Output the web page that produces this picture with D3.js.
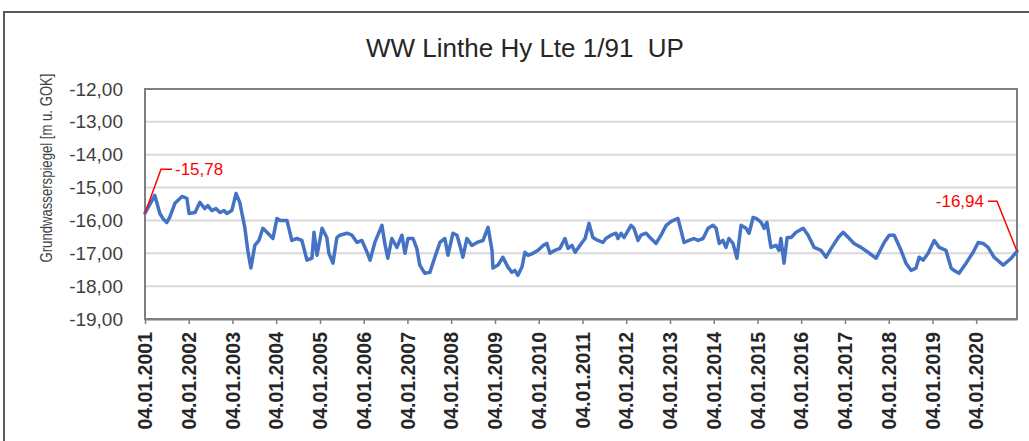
<!DOCTYPE html>
<html>
<head>
<meta charset="utf-8">
<script src="https://cdn.jsdelivr.net/npm/d3@7"></script>
<style>
  body { margin: 0; background: #fff; }
  text { font-family: "Liberation Sans", Arial, sans-serif; white-space: pre; }
</style>
</head>
<body>
<div id="container"></div>
<script>
/* CONSTANTS AND GLOBALS */
const width = 1029,
  height = 441,
  margin = { top: 89, bottom: 122, left: 145, right: 12 };

/* DATA */
const title = "WW Linthe Hy Lte 1/91  UP";
const yTitle = "Grundwasserspiegel [m u. GOK]";

const dates = [
  "2001-01-04","2001-03-27","2001-05-08","2001-06-02","2001-07-05","2001-07-29","2001-09-11","2001-11-09","2001-12-20",
  "2002-01-07","2002-02-26","2002-04-07","2002-05-18","2002-06-13","2002-07-16","2002-08-19","2002-09-22","2002-10-25","2002-11-19","2002-12-30",
  "2003-02-03","2003-03-06","2003-04-17","2003-05-12","2003-06-07","2003-07-10","2003-08-13","2003-09-15","2003-10-27","2003-12-08",
  "2004-01-11","2004-02-06","2004-04-03","2004-05-14","2004-06-25","2004-08-06","2004-09-17","2004-10-29","2004-11-15","2004-12-10",
  "2005-01-21","2005-03-02","2005-03-19","2005-04-22","2005-05-25","2005-06-19","2005-08-17","2005-09-28","2005-11-09","2005-12-20",
  "2006-02-01","2006-02-26","2006-04-07","2006-06-05","2006-06-29","2006-07-24","2006-08-27","2006-10-08","2006-11-19","2006-12-14",
  "2007-01-09","2007-02-20","2007-03-23","2007-04-17","2007-05-29","2007-07-10","2007-08-21","2007-10-02","2007-11-13","2007-12-08",
  "2008-01-19","2008-02-22","2008-03-17","2008-04-11","2008-05-14","2008-06-25","2008-08-07","2008-09-26","2008-11-07","2008-12-10","2008-12-18",
  "2009-01-29","2009-03-11","2009-04-22","2009-05-25","2009-06-19","2009-07-14","2009-08-17","2009-09-11","2009-10-06","2009-11-18","2009-12-29",
  "2010-02-10","2010-03-13","2010-04-08","2010-05-19","2010-06-30","2010-08-11","2010-09-06","2010-10-09","2010-11-04",
  "2011-01-01","2011-01-26","2011-02-28","2011-04-01","2011-05-13","2011-06-24","2011-07-19","2011-08-30","2011-10-11","2011-10-28","2011-11-22","2011-12-17",
  "2012-02-14","2012-03-09","2012-04-12","2012-05-07","2012-06-18","2012-07-29","2012-09-10","2012-10-21","2012-12-03",
  "2013-01-14","2013-03-11","2013-04-06","2013-05-01","2013-06-12","2013-07-23","2013-08-26","2013-10-07","2013-11-18","2013-12-29",
  "2014-01-24","2014-02-19","2014-03-22","2014-04-16","2014-05-11","2014-06-14","2014-07-17","2014-08-20","2014-10-01","2014-10-26","2014-11-29","2014-12-24",
  "2015-02-04","2015-03-01","2015-03-24","2015-04-27","2015-06-08","2015-07-03","2015-07-19","2015-08-14","2015-09-09","2015-10-12","2015-11-23",
  "2016-01-21","2016-03-02","2016-04-21","2016-06-18","2016-07-30","2016-09-11","2016-11-09","2016-12-20",
  "2017-02-01","2017-03-20","2017-05-18","2017-07-15","2017-09-21","2017-11-27",
  "2018-01-08","2018-02-19","2018-04-17","2018-05-28","2018-07-09","2018-08-20","2018-09-15","2018-10-18","2018-11-29",
  "2019-01-19","2019-03-01","2019-04-27","2019-06-09","2019-07-03","2019-08-14","2019-10-12","2019-12-10",
  "2020-01-21","2020-03-02","2020-04-13","2020-06-02","2020-08-17","2020-10-23","2020-12-10"
];

const levels = [
  -15.78,-15.24,-15.79,-15.94,-16.06,-15.91,-15.48,-15.27,-15.33,
  -15.79,-15.76,-15.45,-15.64,-15.55,-15.70,-15.64,-15.76,-15.70,-15.79,-15.70,
  -15.18,-15.45,-16.21,-16.91,-17.45,-16.76,-16.61,-16.24,-16.39,-16.55,
  -15.94,-16.00,-16.00,-16.61,-16.55,-16.61,-17.21,-17.15,-16.36,-17.06,
  -16.24,-16.52,-17.00,-17.30,-16.52,-16.45,-16.39,-16.45,-16.67,-16.61,
  -16.97,-17.21,-16.67,-16.15,-16.70,-17.15,-16.55,-16.82,-16.45,-17.00,
  -16.55,-16.55,-16.85,-17.36,-17.61,-17.58,-17.12,-16.67,-16.55,-17.06,
  -16.39,-16.45,-16.76,-17.12,-16.55,-16.76,-16.67,-16.61,-16.21,-16.91,-17.45,
  -17.36,-17.12,-17.42,-17.58,-17.52,-17.67,-17.42,-16.97,-17.06,-17.00,-16.91,
  -16.76,-16.70,-17.00,-16.91,-16.85,-16.55,-16.85,-16.76,-16.97,
  -16.67,-16.55,-16.09,-16.52,-16.61,-16.67,-16.55,-16.45,-16.39,-16.55,-16.39,-16.52,
  -16.15,-16.24,-16.61,-16.45,-16.39,-16.55,-16.70,-16.45,-16.15,
  -16.03,-15.94,-16.30,-16.67,-16.61,-16.55,-16.61,-16.55,-16.24,-16.15,
  -16.24,-16.70,-16.61,-16.82,-16.55,-16.70,-17.15,-16.15,-16.24,-16.39,-15.91,-15.94,
  -16.06,-16.24,-16.06,-16.82,-16.76,-16.91,-16.55,-17.30,-16.52,-16.52,-16.36,
  -16.24,-16.45,-16.82,-16.91,-17.12,-16.85,-16.52,-16.36,
  -16.52,-16.70,-16.82,-16.97,-17.15,-16.67,
  -16.45,-16.45,-16.91,-17.30,-17.52,-17.45,-17.12,-17.21,-17.00,
  -16.61,-16.82,-16.91,-17.45,-17.52,-17.61,-17.30,-16.97,
  -16.67,-16.70,-16.82,-17.12,-17.36,-17.15,-16.94
];

const tickDates = [
  "2001-01-04","2002-01-04","2003-01-04","2004-01-04","2005-01-04",
  "2006-01-04","2007-01-04","2008-01-04","2009-01-04","2010-01-04",
  "2011-01-04","2012-01-04","2013-01-04","2014-01-04","2015-01-04",
  "2016-01-04","2017-01-04","2018-01-04","2019-01-04","2020-01-04"
];
const yTicks = [-12, -13, -14, -15, -16, -17, -18, -19];

const parse = d3.timeParse("%Y-%m-%d");
const data = dates.map((d, i) => ({ date: parse(d), value: levels[i] }));
const de = d3.formatLocale({ decimal: ",", thousands: ".", grouping: [3], currency: ["", " €"], minus: "-" });
const fmt = de.format(".2f");
const dateFmt = d3.timeFormat("%d.%m.%Y");

/* SCALES */
const xScale = d3.scaleTime()
  .domain(d3.extent(data, d => d.date))
  .range([margin.left, width - margin.right]);

const yScale = d3.scaleLinear()
  .domain([-19, -12])
  .range([height - margin.bottom, margin.top]);

/* SVG */
const svg = d3.select("#container")
  .append("svg")
  .attr("width", width)
  .attr("height", height)
  .style("background-color", "#fff");

// outer chart frame
svg.append("rect")
  .attr("x", 4).attr("y", 12)
  .attr("width", 1100).attr("height", 500)
  .attr("fill", "none")
  .attr("stroke", "#595959")
  .attr("stroke-width", 2);

// title
svg.append("text")
  .attr("x", 525).attr("y", 57)
  .attr("text-anchor", "middle")
  .attr("font-size", 26)
  .attr("fill", "#262626")
  .text(title);

// gridlines
svg.append("g")
  .selectAll("line")
  .data(yTicks)
  .join("line")
  .attr("x1", margin.left).attr("x2", width - margin.right)
  .attr("y1", d => yScale(d)).attr("y2", d => yScale(d))
  .attr("stroke", "#d9d9d9")
  .attr("stroke-width", 2);

// y axis labels
const yAxis = d3.axisLeft(yScale)
  .tickValues(yTicks)
  .tickFormat(fmt)
  .tickSize(0)
  .tickPadding(22);

svg.append("g")
  .attr("transform", `translate(${margin.left},0)`)
  .call(yAxis)
  .call(g => g.select(".domain").remove())
  .selectAll("text")
  .attr("font-family", "Liberation Sans, Arial, sans-serif")
  .attr("font-size", 19)
  .attr("fill", "#404040");

// y axis title (Calibri-like narrow run)
svg.append("text")
  .attr("transform", `translate(52,168) rotate(-90)`)
  .attr("text-anchor", "middle")
  .attr("font-size", 16)
  .attr("textLength", 189)
  .attr("lengthAdjust", "spacingAndGlyphs")
  .attr("fill", "#404040")
  .text(yTitle);

// x axis
const xAxis = d3.axisBottom(xScale)
  .tickValues(tickDates.map(parse))
  .tickFormat(dateFmt)
  .tickSize(5)
  .tickSizeOuter(0);

svg.append("g")
  .attr("transform", `translate(0,${height - margin.bottom})`)
  .call(xAxis)
  .call(g => g.select(".domain").attr("stroke", "#7f7f7f").attr("stroke-width", 2))
  .call(g => g.selectAll(".tick line").attr("stroke", "#7f7f7f").attr("stroke-width", 1.5))
  .selectAll("text")
  .attr("font-family", "Liberation Sans, Arial, sans-serif")
  .attr("font-size", 19.5)
  .attr("font-weight", "bold")
  .attr("fill", "#262626")
  .attr("text-anchor", "end")
  .attr("transform", "rotate(-90)")
  .attr("x", -13)
  .attr("y", 0)
  .attr("dy", "0.35em");

// plot area border
svg.append("rect")
  .attr("x", margin.left).attr("y", margin.top)
  .attr("width", width - margin.right - margin.left)
  .attr("height", height - margin.bottom - margin.top)
  .attr("fill", "none")
  .attr("stroke", "#7f7f7f")
  .attr("stroke-width", 2);

// line
const line = d3.line()
  .x(d => xScale(d.date))
  .y(d => yScale(d.value));

svg.append("path")
  .datum(data)
  .attr("d", line)
  .attr("fill", "none")
  .attr("stroke", "#4472c4")
  .attr("stroke-width", 3.5)
  .attr("stroke-linejoin", "round")
  .attr("stroke-linecap", "round");

// annotations for first and last values
const first = data[0], last = data[data.length - 1];
const fx = xScale(first.date), fy = yScale(first.value);
const lx = xScale(last.date), ly = yScale(last.value);

svg.append("polyline")
  .attr("points", `${fx},${fy} ${fx + 16},${fy - 44} ${fx + 27},${fy - 44}`)
  .attr("fill", "none").attr("stroke", "#ff0000").attr("stroke-width", 1.5);
svg.append("text")
  .attr("x", fx + 30).attr("y", fy - 44).attr("dy", "0.35em")
  .attr("font-size", 17).attr("fill", "#ff0000")
  .text(fmt(first.value));

svg.append("polyline")
  .attr("points", `${lx},${ly} ${lx - 20},${ly - 50} ${lx - 29},${ly - 50}`)
  .attr("fill", "none").attr("stroke", "#ff0000").attr("stroke-width", 1.5);
svg.append("text")
  .attr("x", lx - 33).attr("y", ly - 50).attr("dy", "0.35em")
  .attr("text-anchor", "end")
  .attr("font-size", 17).attr("fill", "#ff0000")
  .text(fmt(last.value));
</script>
</body>
</html>
